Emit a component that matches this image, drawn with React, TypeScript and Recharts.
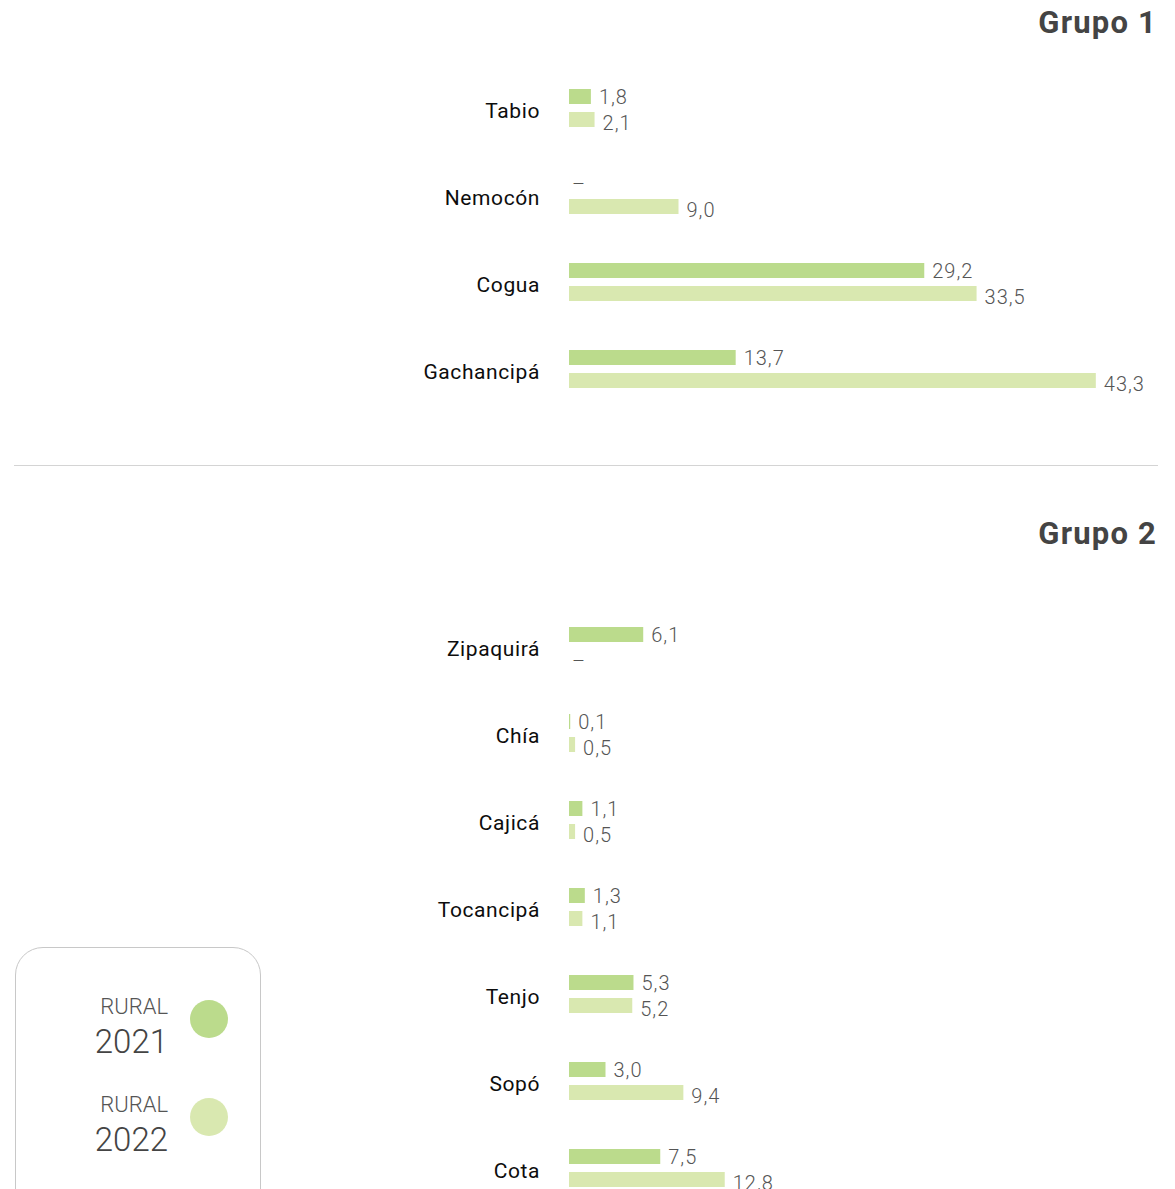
import React from 'react'
import { BarChart, Bar, XAxis, YAxis, LabelList } from 'recharts'

// Grupo 1
const grupo1Municipios = ['Tabio', 'Nemocón', 'Cogua', 'Gachancipá']
const grupo1Rural2021: (number | null)[] = [1.8, null, 29.2, 13.7]
const grupo1Rural2022: (number | null)[] = [2.1, 9.0, 33.5, 43.3]

// Grupo 2
const grupo2Municipios = ['Zipaquirá', 'Chía', 'Cajicá', 'Tocancipá', 'Tenjo', 'Sopó', 'Cota']
const grupo2Rural2021: (number | null)[] = [6.1, 0.1, 1.1, 1.3, 5.3, 3.0, 7.5]
const grupo2Rural2022: (number | null)[] = [null, 0.5, 0.5, 1.1, 5.2, 9.4, 12.8]

const groupTitles = ['Grupo 1', 'Grupo 2']
const legendLabels = ['2021', '2022']

const colors = {
  r2021: '#bbdb8c',
  r2022: '#d9e8b0',
  value: '#555555',
  title: '#444444',
  category: '#0d0d0d'
}

const FONT = 'Roboto, "DejaVu Sans", sans-serif'

const buildRows = (names: string[], a: (number | null)[], b: (number | null)[]) =>
  names.map((name, i) => ({ name, v2021: a[i], v2022: b[i] }))

const fmt = (v: number | null) => (v == null ? '–' : v.toFixed(1).replace('.', ','))

// la etiqueta lee el valor original de la fila (null => guion)
const makeLabel = (rows: any[], key: 'v2021' | 'v2022', dy: number) => (props: any) => {
  const { x, y, width, height, index } = props
  const raw = rows[index]?.[key]
  const isNull = raw == null
  return (
    <text
      x={Number(x) + Number(width) + (isNull ? 3 : 8)}
      y={Number(y) + Number(height) / 2 + dy}
      fill={colors.value}
      fontSize={20}
      fontWeight={300}
      fontFamily={FONT}
      letterSpacing={1}
      dominantBaseline="central"
    >
      {fmt(raw)}
    </text>
  )
}

const GroupChart = ({ rows, top }: { rows: any[]; top: number }) => {
  const height = rows.length * 87
  return (
    <div style={{ position: 'absolute', left: 0, top }}>
      <BarChart
        width={1175}
        height={height}
        data={rows}
        layout="vertical"
        margin={{ top: 0, right: 22, left: 0, bottom: 0 }}
        barSize={15}
        barGap={8}
      >
        <XAxis type="number" hide domain={[0, 48]} />
        <YAxis
          type="category"
          dataKey="name"
          width={569}
          axisLine={false}
          tickLine={false}
          tickSize={0}
          tickMargin={29}
          tick={{
            fill: colors.category,
            fontSize: 21,
            fontWeight: 400,
            fontFamily: FONT,
            letterSpacing: 0.6,
            dy: 3
          }}
        />
        <Bar
          dataKey={(d: any) => d.v2021 ?? 0}
          name="RURAL 2021"
          fill={colors.r2021}
          minPointSize={0.01}
          isAnimationActive={false}
        >
          <LabelList content={makeLabel(rows, 'v2021', 0)} />
        </Bar>
        <Bar
          dataKey={(d: any) => d.v2022 ?? 0}
          name="RURAL 2022"
          fill={colors.r2022}
          minPointSize={0.01}
          isAnimationActive={false}
        >
          <LabelList content={makeLabel(rows, 'v2022', 3)} />
        </Bar>
      </BarChart>
    </div>
  )
}

const Title = ({ text, top }: { text: string; top: number }) => (
  <div
    style={{
      position: 'absolute',
      right: 18,
      top,
      fontFamily: FONT,
      fontSize: 31,
      fontWeight: 700,
      letterSpacing: 1.2,
      color: colors.title
    }}
  >
    {text}
  </div>
)

const LegendItem = ({ year, color, top }: { year: string; color: string; top: number }) => (
  <div style={{ position: 'absolute', left: 0, top, width: 245 }}>
    <div
      style={{
        position: 'absolute',
        right: 93,
        top: 0,
        textAlign: 'right',
        fontFamily: FONT,
        color: colors.value,
        fontWeight: 300
      }}
    >
      <div style={{ fontSize: 22, lineHeight: '26px' }}>RURAL</div>
      <div style={{ fontSize: 33, lineHeight: '44px', color: colors.title }}>{year}</div>
    </div>
    <div
      style={{
        position: 'absolute',
        left: 174,
        top: 6,
        width: 38,
        height: 38,
        borderRadius: '50%',
        background: color
      }}
    />
  </div>
)

export default function App() {
  const rows1 = buildRows(grupo1Municipios, grupo1Rural2021, grupo1Rural2022)
  const rows2 = buildRows(grupo2Municipios, grupo2Rural2021, grupo2Rural2022)
  return (
    <div
      style={{
        position: 'absolute',
        left: 0,
        top: 0,
        width: 1175,
        height: 1189,
        overflow: 'hidden',
        background: '#fff'
      }}
    >
      <Title text={groupTitles[0]} top={4} />
      <GroupChart rows={rows1} top={64} />
      <div
        style={{
          position: 'absolute',
          left: 14,
          top: 465,
          width: 1144,
          height: 1,
          background: '#d4d4d4'
        }}
      />
      <Title text={groupTitles[1]} top={515} />
      <GroupChart rows={rows2} top={602} />
      <div
        style={{
          position: 'absolute',
          left: 15,
          top: 947,
          width: 244,
          height: 280,
          border: '1px solid #c8c8c8',
          borderRadius: 28,
          background: '#fff'
        }}
      >
        <LegendItem year={legendLabels[0]} color={colors.r2021} top={46} />
        <LegendItem year={legendLabels[1]} color={colors.r2022} top={144} />
      </div>
    </div>
  )
}
